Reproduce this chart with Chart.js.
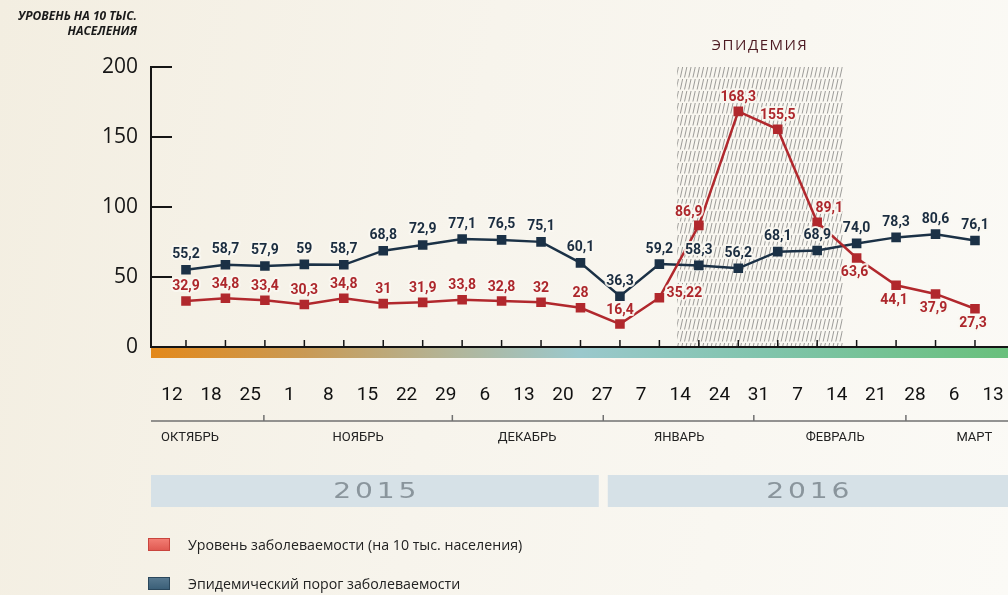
<!DOCTYPE html>
<html lang="ru">
<head>
<meta charset="utf-8">
<title>Заболеваемость и эпидемический порог</title>
<script src="https://cdn.jsdelivr.net/npm/chart.js@4.4.1/dist/chart.umd.min.js"></script>
<style>
  html, body { margin: 0; padding: 0; }
  #wrap {
    position: relative; width: 1008px; height: 595px; overflow: hidden;
    background: linear-gradient(100deg, #f3eee1 0%, #f7f4ec 45%, #fbfaf6 100%);
  }
  #chart { position: absolute; left: 0; top: 0; }
  .ytitle {
    position: absolute; right: 871px; top: 8px; text-align: right; white-space: nowrap;
    font: italic bold 12px "Open Sans", sans-serif; line-height: 15px; color: #1a1a1a;
  }
  .legend { position: absolute; left: 148px; top: 535px; font: 14.2px "Open Sans", sans-serif; color: #222; }
  .legend div { display: flex; align-items: center; height: 18px; margin-bottom: 21px; }
  .legend i { display: inline-block; width: 22px; height: 13px; margin-right: 18px; box-sizing: border-box; }
</style>
</head>
<body>
<div id="wrap">
  <canvas id="chart" width="1008" height="595"></canvas>
  <div class="ytitle">УРОВЕНЬ НА 10 ТЫС.<br>НАСЕЛЕНИЯ</div>
  <div class="legend" id="legend"></div>
</div>
<script>
// week-by-week values, october 2015 - march 2016
const days = ['12', '18', '25', '1', '8', '15', '22', '29', '6', '13', '20', '27',
              '7', '14', '24', '31', '7', '14', '21', '28', '6', '13'];
const months = ['ОКТЯБРЬ', 'НОЯБРЬ', 'ДЕКАБРЬ', 'ЯНВАРЬ', 'ФЕВРАЛЬ', 'МАРТ'];
const monthCenters = [0.46, 4.76, 9.08, 12.97, 16.96, 20.52]; // in day-label units
const monthBounds = [2.35, 7.17, 11.03, 14.88, 18.77];
const years = ['2015', '2016'];

const incidence = [32.9, 34.8, 33.4, 30.3, 34.8, 31, 31.9, 33.8, 32.8, 32, 28,
                   16.4, 35.22, 86.9, 168.3, 155.5, 89.1, 63.6, 44.1, 37.9, 27.3];
const incidenceDigits = [1, 1, 1, 1, 1, 0, 1, 1, 1, 0, 0, 1, 2, 1, 1, 1, 1, 1, 1, 1, 1];
const threshold = [55.2, 58.7, 57.9, 59, 58.7, 68.8, 72.9, 77.1, 76.5, 75.1, 60.1,
                   36.3, 59.2, 58.3, 56.2, 68.1, 68.9, 74.0, 78.3, 80.6, 76.1];
const thresholdDigits = [1, 1, 1, 0, 1, 1, 1, 1, 1, 1, 1, 1, 1, 1, 1, 1, 1, 1, 1, 1, 1];

const seriesNames = ['Уровень заболеваемости (на 10 тыс. населения)', 'Эпидемический порог заболеваемости'];
const epidemicSpan = [12.45, 16.65]; // week index
const epidemicLabel = 'ЭПИДЕМИЯ';

// where each value label sits relative to its point
const incidencePlace = ['t', 't', 't', 't', 't', 't', 't', 't', 't', 't', 't', 't',
                        'r', 'tl', 't', 't', 'tr', 'b', 'b', 'b', 'b'];
const PLACE = { t: [0, -14], b: [-2, 15], r: [25, -4], tl: [-10, -13], tr: [12, -14] };

const RED = '#b1282d';
const BLUE = '#1b3146';
const fmt = (v, d) => v.toFixed(d).replace('.', ',');
const noPad = s => { s.paddingLeft = 0; s.paddingRight = 0; };

const decor = {
  id: 'decor',
  beforeDatasetsDraw(chart) {
    const { ctx, chartArea: a, scales: { x, y } } = chart;
    const y0 = y.getPixelForValue(0);
    const yTop = y.getPixelForValue(y.max);

    // hatched epidemic band
    const ex0 = x.getPixelForValue(epidemicSpan[0]);
    const ex1 = x.getPixelForValue(epidemicSpan[1]);
    ctx.save();
    ctx.beginPath();
    ctx.rect(ex0, yTop, ex1 - ex0, y0 - yTop);
    ctx.clip();
    ctx.strokeStyle = 'rgba(70,70,70,0.65)';
    ctx.lineWidth = 0.8;
    for (let sx = ex0; sx < ex1 + 3; sx += 4.2) {
      for (let sy = yTop; sy < y0; sy += 12) {
        ctx.beginPath();
        ctx.moveTo(sx - 1, sy + 10.5);
        ctx.lineTo(sx + 1.3, sy);
        ctx.stroke();
      }
    }
    ctx.restore();

    ctx.save();
    ctx.font = '15px "Open Sans", sans-serif';
    ctx.letterSpacing = '1.5px';
    ctx.fillStyle = '#4d1a22';
    ctx.textAlign = 'center';
    ctx.textBaseline = 'middle';
    ctx.fillText(epidemicLabel, (ex0 + ex1) / 2, yTop - 21);
    ctx.restore();

    // short y ticks into the plot
    ctx.save();
    ctx.strokeStyle = '#151515';
    ctx.lineWidth = 2;
    y.ticks.forEach(t => {
      if (t.value === 0) return;
      const py = y.getPixelForValue(t.value);
      ctx.beginPath();
      ctx.moveTo(a.left, py);
      ctx.lineTo(a.left + 21, py);
      ctx.stroke();
    });

    // coloured band under the zero line
    const g = ctx.createLinearGradient(a.left, 0, a.right, 0);
    g.addColorStop(0, '#e3891b');
    g.addColorStop(0.18, '#c99a55');
    g.addColorStop(0.36, '#b1b69c');
    g.addColorStop(0.5, '#9ac8cc');
    g.addColorStop(0.72, '#80c4ab');
    g.addColorStop(1, '#69c07c');
    ctx.fillStyle = g;
    ctx.fillRect(a.left, y0 + 1, a.right - a.left, 10);

    ctx.beginPath();
    ctx.moveTo(a.left, y0);
    ctx.lineTo(a.right, y0);
    ctx.stroke();

    ctx.lineWidth = 1.5;
    incidence.forEach((_, i) => {
      const px = x.getPixelForValue(i);
      ctx.beginPath();
      ctx.moveTo(px, y0 - 7);
      ctx.lineTo(px, y0);
      ctx.stroke();
    });
    ctx.restore();
  },
  afterDatasetsDraw(chart) {
    const { ctx } = chart;
    ctx.save();
    ctx.font = 'bold 14px "Liberation Sans Narrow", "Roboto", sans-serif';
    ctx.textAlign = 'center';
    ctx.textBaseline = 'middle';
    ctx.lineJoin = 'round';
    ctx.lineWidth = 4;
    ctx.strokeStyle = 'rgba(249,247,241,0.9)';
    chart.data.datasets.forEach((ds, di) => {
      chart.getDatasetMeta(di).data.forEach((pt, i) => {
        const off = PLACE[ds.place ? ds.place[i] : 't'];
        const txt = fmt(ds.data[i].y, ds.digits[i]);
        const dy = ds.place ? off[1] : -15;
        ctx.strokeText(txt, pt.x + off[0], pt.y + dy);
        ctx.fillStyle = ds.labelColor;
        ctx.fillText(txt, pt.x + off[0], pt.y + dy);
      });
    });
    ctx.restore();
  },
  afterDraw(chart) {
    const { ctx, chartArea: a, scales: { x2 } } = chart;
    const lineY = a.bottom + 74;
    ctx.save();
    // month row
    ctx.strokeStyle = '#707070';
    ctx.lineWidth = 1.5;
    ctx.beginPath();
    ctx.moveTo(a.left, lineY);
    ctx.lineTo(a.right, lineY);
    ctx.stroke();
    monthBounds.forEach(b => {
      const px = x2.getPixelForValue(b);
      ctx.beginPath();
      ctx.moveTo(px, lineY - 6);
      ctx.lineTo(px, lineY);
      ctx.stroke();
    });
    ctx.fillStyle = '#222';
    ctx.font = '13px "Roboto", sans-serif';
    ctx.textAlign = 'center';
    ctx.textBaseline = 'middle';
    months.forEach((m, i) => ctx.fillText(m, x2.getPixelForValue(monthCenters[i]), lineY + 17));

    // year boxes split at the new-year boundary
    const split = x2.getPixelForValue(monthBounds[2]);
    const boxTop = lineY + 54, boxH = 32;
    const spans = [[a.left, split - 4.5], [split + 4.5, a.right]];
    years.forEach((yr, i) => {
      const [l, r] = spans[i];
      ctx.fillStyle = '#d6e1e7';
      ctx.fillRect(l, boxTop, r - l, boxH);
      ctx.save();
      ctx.translate((l + r) / 2, boxTop + boxH / 2 + 1);
      ctx.scale(1.28, 1);
      ctx.font = '22px "DejaVu Sans", sans-serif';
      ctx.letterSpacing = '3px';
      ctx.fillStyle = '#8a959c';
      ctx.fillText(yr, 1.5, 0);
      ctx.restore();
    });
    ctx.restore();
  }
};

const ctx = document.getElementById('chart');
new Chart(ctx, {
  type: 'line',
  data: {
    datasets: [
      {
        label: seriesNames[0],
        data: incidence.map((v, i) => ({ x: i, y: v })),
        digits: incidenceDigits,
        place: incidencePlace,
        labelColor: '#ad272c',
        borderColor: RED,
        backgroundColor: RED,
        borderWidth: 2.5,
        pointStyle: 'rect',
        pointRadius: 5,
        tension: 0,
        swatch: 'linear-gradient(#f27d73, #e05a52)',
        swatchBorder: '#c9443d',
      },
      {
        label: seriesNames[1],
        data: threshold.map((v, i) => ({ x: i, y: v })),
        digits: thresholdDigits,
        labelColor: '#1b2d40',
        borderColor: BLUE,
        backgroundColor: BLUE,
        borderWidth: 2.5,
        pointStyle: 'rect',
        pointRadius: 5,
        tension: 0,
        swatch: 'linear-gradient(#56788f, #3b5f78)',
        swatchBorder: '#2a475c',
      },
    ],
  },
  options: {
    responsive: false,
    animation: false,
    layout: { autoPadding: false, padding: { top: 67, left: 0, right: 0, bottom: 0 } },
    plugins: { legend: { display: false }, tooltip: { enabled: false } },
    scales: {
      x: {
        type: 'linear',
        display: false,
        min: -0.887,
        max: 20.837,
        afterFit: noPad,
      },
      x2: {
        type: 'linear',
        axis: 'x',
        position: 'bottom',
        min: -0.537,
        max: 21.381,
        grid: { display: false },
        border: { display: false },
        afterBuildTicks: s => { s.ticks = days.map((_, i) => ({ value: i })); },
        afterFit: s => { s.height = 248; noPad(s); },
        ticks: {
          autoSkip: false,
          maxRotation: 0,
          minRotation: 0,
          padding: 29,
          color: '#111',
          font: { family: 'Roboto', size: 19 },
          callback: v => days[v],
        },
      },
      y: {
        min: 0,
        max: 200,
        grid: { display: false, drawTicks: false },
        border: { display: true, color: '#151515', width: 2 },
        afterFit: s => { s.width = 151; },
        ticks: {
          stepSize: 50,
          padding: 13,
          color: '#161616',
          font: { family: '"Open Sans"', size: 21 },
        },
      },
    },
  },
  plugins: [decor],
});

// legend built from the dataset names
const chart = Chart.getChart(ctx);
document.getElementById('legend').innerHTML = chart.data.datasets.map(ds =>
  `<div><i style="background:${ds.swatch};border:1px solid ${ds.swatchBorder}"></i>${ds.label}</div>`
).join('');
</script>
</body>
</html>
